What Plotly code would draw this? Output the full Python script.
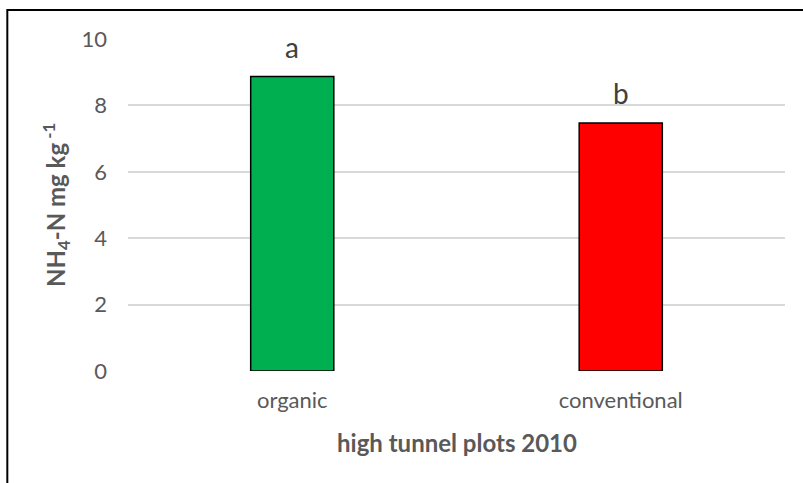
import plotly.graph_objects as go

# Soil ammonium in high tunnel plots, 2010
categories = ["organic", "conventional"]
nh4_values = [8.87, 7.47]
bar_colors = ["#00B050", "#FF0000"]
group_letters = ["a", "b"]
y_ticks = [0, 2, 4, 6, 8, 10]

FONT = "Lato, 'Open Sans', sans-serif"
GREY = "#595959"

fig = go.Figure()
fig.add_trace(go.Bar(
    x=categories,
    y=nh4_values,
    marker=dict(color=bar_colors, line=dict(color="#000000", width=1.5)),
    width=0.253,
    hoverinfo="x+y",
))

# significance letters above each bar
for cat, val, letter in zip(categories, nh4_values, group_letters):
    fig.add_annotation(
        x=cat, y=val, text=letter, showarrow=False,
        yanchor="bottom", yshift=11,
        font=dict(family=FONT, size=28, color="#404040"),
    )

# axis titles
fig.add_annotation(
    xref="paper", yref="paper", x=0.5, y=-0.215,
    text="<b>high tunnel plots 2010</b>", showarrow=False,
    xanchor="center", yanchor="middle",
    font=dict(family=FONT, size=24, color=GREY),
)
fig.add_annotation(
    xref="paper", yref="paper", x=-0.1096, y=0.5,
    text="<b>NH<sub>4</sub>-N mg kg<sup> -1</sup></b>", showarrow=False,
    textangle=-90, xanchor="center", yanchor="middle",
    font=dict(family=FONT, size=24, color=GREY),
)

# chart frame
fig.add_shape(
    type="rect", xref="paper", yref="paper",
    x0=-0.1837, x1=1.2, y0=-0.6, y1=1.0873,
    line=dict(color="#000000", width=2), fillcolor="rgba(0,0,0,0)",
    layer="above",
)

fig.update_layout(
    width=803, height=483,
    margin=dict(l=128, r=18, t=39, b=112, pad=0),
    paper_bgcolor="#ffffff", plot_bgcolor="#ffffff",
    showlegend=False,
    font=dict(family=FONT, color=GREY),
)
fig.update_xaxes(
    showline=False, showgrid=False, ticks="",
    tickfont=dict(family=FONT, size=22, color=GREY),
    ticklabelstandoff=14,
)
fig.update_yaxes(
    range=[0, 10], tickvals=y_ticks, ticks="",
    showline=False, zeroline=False,
    showgrid=True, gridcolor="#d9d9d9", gridwidth=1.5,
    tickfont=dict(family=FONT, size=22, color=GREY),
    ticklabelstandoff=20,
)

fig.write_html("out.html")
